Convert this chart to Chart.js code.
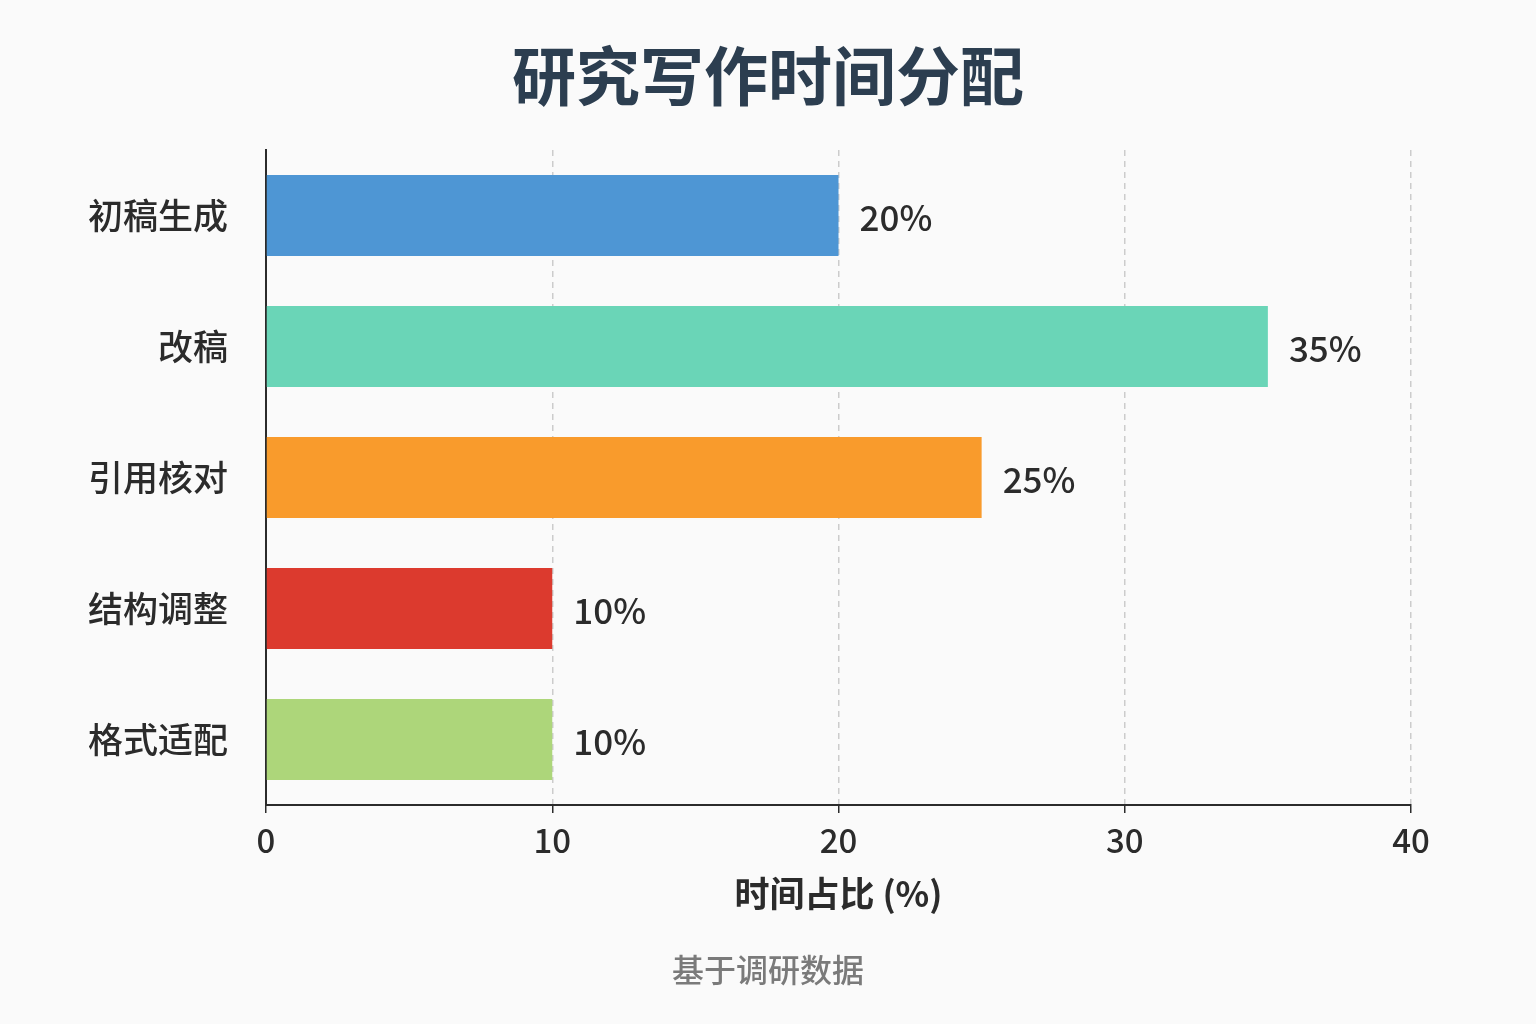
<!DOCTYPE html>
<html><head><meta charset="utf-8">
<script src="https://cdn.jsdelivr.net/npm/chart.js@4"></script>
<style>html,body{margin:0;background:#fafafa}#wrap{width:1536px;height:1024px}</style>
</head><body><div id="wrap"><canvas id="c" width="1536" height="1024"></canvas></div>
<script>
// data
const categories = ['初稿生成', '改稿', '引用核对', '结构调整', '格式适配'];
const shares = [20, 35, 25, 10, 10];
const barColors = ['#4e96d4', '#6ad5b7', '#f99b2c', '#dc3a2e', '#add67a'];
const xTicks = [0, 10, 20, 30, 40];
const titleText = '研究写作时间分配';
const footerText = '基于调研数据';

const FONT = '"Noto Sans CJK SC", "Noto Sans", sans-serif';
Chart.defaults.font.family = FONT;

// value labels at bar ends + page title/footer centred on the canvas
const extras = {
  id: 'extras',
  afterDatasetsDraw(chart) {
    const ctx = chart.ctx;
    const meta = chart.getDatasetMeta(0);
    ctx.save();
    ctx.font = '500 35px ' + FONT;
    ctx.fillStyle = '#2b2b2b';
    ctx.textBaseline = 'middle';
    meta.data.forEach((bar, i) => {
      ctx.fillText(shares[i] + '%', bar.x + 21, bar.y + 2);
    });
    ctx.textAlign = 'center';
    ctx.font = 'bold 64px ' + FONT;
    ctx.fillStyle = '#2c3e50';
    ctx.fillText(titleText, chart.width / 2, 76);
    ctx.font = '500 32px ' + FONT;
    ctx.fillStyle = '#7a7a7a';
    ctx.fillText(footerText, chart.width / 2, 970);
    ctx.restore();
  }
};

new Chart(document.getElementById('c'), {
  type: 'bar',
  data: {
    labels: categories,
    datasets: [{ data: shares, backgroundColor: barColors, categoryPercentage: 0.62, barPercentage: 1 }]
  },
  options: {
    indexAxis: 'y',
    responsive: false,
    devicePixelRatio: 1,
    animation: false,
    layout: { padding: { left: 0, right: 125, top: 150, bottom: 99 } },
    plugins: {
      legend: { display: false },
      tooltip: { enabled: false }
    },
    scales: {
      x: {
        min: 0, max: 40,
        afterBuildTicks: s => { s.ticks = xTicks.map(v => ({ value: v })); },
        afterFit: s => { s.height = 120; },
        grid: { color: '#cccccc', lineWidth: 1.5, tickColor: '#2b2b2b', tickLength: 8, drawTicks: true },
        border: { color: '#2b2b2b', width: 2, dash: [6, 5] },
        ticks: { color: '#2b2b2b', font: { size: 33, weight: '500' }, padding: 8 },
        title: { display: true, text: '时间占比 (%)', color: '#2b2b2b', font: { size: 35, weight: 'bold' }, padding: { top: 0, bottom: 10 } }
      },
      y: {
        afterFit: s => { s.width = 266; },
        grid: { display: false },
        border: { color: '#2b2b2b', width: 2 },
        ticks: { color: '#2b2b2b', font: { size: 35, weight: '500' }, padding: 30 }
      }
    }
  },
  plugins: [extras]
});
</script></body></html>
